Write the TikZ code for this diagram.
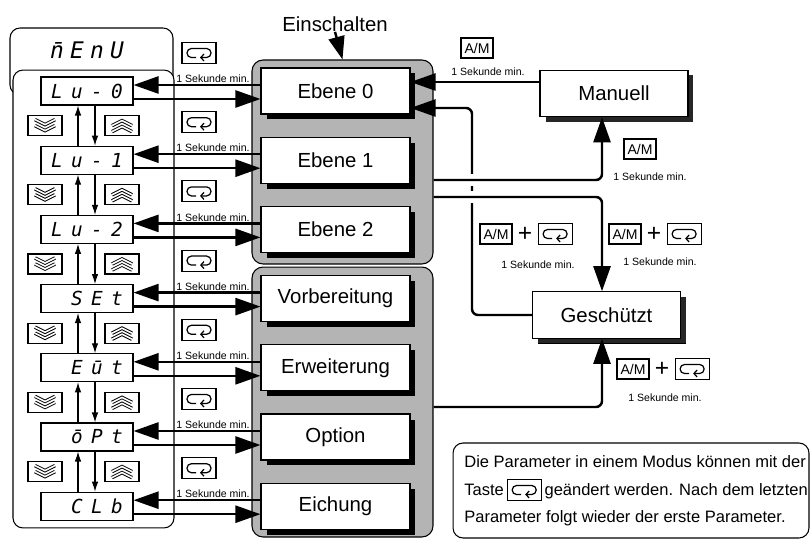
\documentclass[tikz,border=0pt]{standalone}
\usepackage{fontspec}
\setmainfont{Liberation Sans}
\setsansfont{Liberation Sans}
\newfontfamily\segfont{DejaVu Sans Mono}
\usetikzlibrary{arrows.meta, positioning, shadows}

% four fixed slots of a display, right-aligned texts leave the first one empty
\newlength{\slotw}
\setlength{\slotw}{0.4cm}
\newcommand{\segslots}[4]{%
  \makebox[\slotw]{#1}\makebox[\slotw]{#2}\makebox[\slotw]{#3}\makebox[\slotw]{#4}}
% a letter with the display's top bar over it
\newcommand{\segbar}[1]{\ooalign{#1\cr\raisebox{-0.08ex}{¯}\cr}}

\begin{document}
\begin{tikzpicture}[
    x=0.02cm, y=-0.02cm,
    every node/.style={font=\sffamily},
]

% ---------------------------------------------------------------- colours
\definecolor{grpfill}{HTML}{B4B4B4}   % the stippled mode groups
\definecolor{shadowcol}{HTML}{262626}

% ================================================================
% Geometry, in pixels of the 810 x 540 sheet (x right, y down).
%
%   rows y = 91 + 69.2 i, i = 0..6, shared by displays and mode boxes
%   displays      x 41 .. 133   (centre 87)
%   mode boxes    x 261 .. 410  (centre 335.5), groups x 252 .. 433
%   keys between  x 182 .. 216, "1 Sekunde min." just above each row
%   right column  Manuell (614, 93.5), Geschuetzt (606.5, 315)
% ================================================================

\def\rowtop{91}
\def\rowgap{69.2}

\tikzset{
    menubox/.style={draw, line width=0.6pt, fill=white, rounded corners=0.2cm},
    grp/.style={draw, line width=0.6pt, fill=grpfill, rounded corners=0.22cm,
        minimum width=3.62cm, inner sep=0pt},
    segbox/.style={draw, line width=0.6pt, fill=white,
        minimum width=1.84cm, minimum height=0.56cm, inner sep=0pt,
        font=\segfont\itshape\fontsize{11}{12}\selectfont},
    seghead/.style={inner sep=0pt, font=\segfont\itshape\fontsize{13}{14}\selectfont},
    modebox/.style={draw, line width=0.6pt, fill=white,
        minimum width=2.98cm, minimum height=0.92cm, inner sep=0pt,
        font=\sffamily\fontsize{11.6}{13}\selectfont,
        drop shadow={opacity=1, fill=black, shadow xshift=0.11cm, shadow yshift=-0.11cm}},
    sidebox/.style={modebox, minimum width=2.96cm, minimum height=0.93cm,
        drop shadow={opacity=1, fill=shadowcol, shadow xshift=0.11cm, shadow yshift=-0.1cm}},
    retkey/.style={draw, line width=0.6pt, fill=white,
        minimum width=0.68cm, minimum height=0.42cm, inner sep=0pt,
        path picture={\draw[line width=0.7pt, rounded corners=2.5pt,
            -{Straight Barb[length=1.8pt, width=4pt]},
            shift={(path picture bounding box.center)}]
            (-3,4.5) -- (-12,4.5) -- (-12,-4.5) -- (12,-4.5) -- (12,4.5) -- (1,4.5);}},
    dnkey/.style={draw, line width=0.6pt, fill=white,
        minimum width=0.68cm, minimum height=0.40cm, inner sep=0pt,
        path picture={\draw[line width=0.55pt, double, double distance=0.9pt,
            shift={(path picture bounding box.center)}]
            (-10,-6) -- (0,-1) -- (10,-6) (-10,0) -- (0,5) -- (10,0);}},
    upkey/.style={draw, line width=0.6pt, fill=white,
        minimum width=0.68cm, minimum height=0.40cm, inner sep=0pt,
        path picture={\draw[line width=0.55pt, double, double distance=0.9pt,
            shift={(path picture bounding box.center)}]
            (-10,6) -- (0,1) -- (10,6) (-10,0) -- (0,-5) -- (10,0);}},
    amkey/.style={draw, line width=0.6pt, fill=white,
        minimum width=0.64cm, minimum height=0.40cm, inner sep=0pt,
        font=\sffamily\fontsize{8}{9}\selectfont},
    plus/.style={inner sep=0pt, font=\sffamily\fontsize{14}{14}\selectfont},
    seclab/.style={inner sep=0pt, font=\sffamily\fontsize{6}{7}\selectfont},
    bigtext/.style={inner sep=0pt, font=\sffamily\fontsize{11.6}{13}\selectfont},
    notetext/.style={inner sep=0pt, text height=1.5ex, text depth=0.3ex,
        font=\sffamily\fontsize{9.4}{11}\selectfont},
    heavy/.style={line width=1.4pt, -{Triangle[length=0.5cm, width=0.34cm]}},
    scroll/.style={line width=0.6pt, -{Latex[length=0.2cm, width=0.13cm]}},
    bridge/.style={draw=white, line width=3pt},
}

\useasboundingbox (0,0) rectangle (810,540);

% ================================================================ menu column
\node[menubox, minimum width=3.26cm, minimum height=1.34cm] (menuhead) at (91.5,61.5) {};
\node[seghead] (menutitle) at (87,51) {\segslots{\segbar{n}}{E}{n}{U}};
\node[menubox, minimum width=3.22cm, minimum height=9.16cm] (menulist) at (93.5,299) {};

% ================================================================ mode groups
\node[grp, minimum height=4.08cm] (grpA) at (342.5,162) {};
\node[grp, minimum height=5.4cm]  (grpB) at (342.5,402) {};

\node[bigtext] (einschalten) at (335,24) {Einschalten};
\draw[line width=1.4pt, -{Triangle[length=0.46cm, width=0.32cm]}] (einschalten.south) -- (grpA.north);

% ================================================================ the seven rows
\foreach \i/\a/\b/\c/\d/\name in {0/L/u/-/0/Ebene 0, 1/L/u/-/1/Ebene 1,
        2/L/u/-/2/Ebene 2, 3/{}/S/E/t/Vorbereitung, 4/{}/E/\segbar{u}/t/Erweiterung,
        5/{}/\segbar{o}/P/t/Option, 6/{}/C/L/b/Eichung} {
    \pgfmathsetmacro{\y}{\rowtop+\i*\rowgap}
    \pgfmathsetmacro{\yup}{\y-6}
    \pgfmathsetmacro{\ydn}{\y+8}
    \node[segbox]  (disp\i) at (87,\y)    {\segslots{\a}{\b}{\c}{\d}};
    \node[modebox] (mode\i) at (335.5,\y) {\name};
    \node[retkey]  (ret\i)  at (199,\y-38) {};
    \node[seclab]  (sec\i)  at (213,\y-12) {1 Sekunde min.};
    \draw[heavy] (mode\i.west |- 0,\yup) -- (disp\i.east |- 0,\yup);
    \draw[heavy] (disp\i.east |- 0,\ydn) -- (mode\i.west |- 0,\ydn);
}

% scroll keys between the displays
\foreach \i in {0,...,5} {
    \pgfmathtruncatemacro{\j}{\i+1}
    \pgfmathsetmacro{\y}{\rowtop+(\i+0.5)*\rowgap}
    \node[dnkey] (dn\i) at (45,\y)  {};
    \node[upkey] (up\i) at (122,\y) {};
    \draw[scroll] (disp\j.north -| 78,0) -- (disp\i.south -| 78,0);
    \draw[scroll] (disp\i.south -| 95,0) -- (disp\j.north -| 95,0);
}

% ================================================================ right column
\node[sidebox] (manuell)    at (614,93.5)  {Manuell};
\node[sidebox] (geschuetzt) at (606.5,315) {Geschützt};

% Manuell back to Ebene 0
\draw[heavy] (manuell.west |- 0,82) -- (mode0.east |- 0,82);
\node[amkey]  (amA)  at (477,48) {A/M};
\node[seclab] (secA) at (488,72) {1 Sekunde min.};

% Geschuetzt back to Ebene 0, crossed by the two lines below
\coordinate (bend) at (472,108);
\draw[heavy, rounded corners=0.12cm] (geschuetzt.west) -| (bend) -- (mode0.east |- bend);
\draw[bridge] (bend |- 0,174) -- (bend |- 0,186);
\draw[bridge] (bend |- 0,191) -- (bend |- 0,203);

\draw[heavy, rounded corners=0.12cm] (grpA.east |- 0,180) -| (manuell.south -| 602,0);
\draw[heavy, rounded corners=0.12cm] (grpA.east |- 0,197) -| (geschuetzt.north -| 602,0);
\draw[heavy, rounded corners=0.12cm] (grpB.east |- 0,407) -| (geschuetzt.south -| 602,0);

\node[amkey]  (amB)  at (640,149) {A/M};
\node[seclab] (secB) at (650,177) {1 Sekunde min.};

% A/M + loop key, three times
\node[amkey] (amC) at (496,234) {A/M};
\node[plus, right=0.1cm of amC] (plusC) {+};
\node[retkey, right=0.1cm of plusC] (retC) {};
\node[seclab] (secC) at (538,265) {1 Sekunde min.};

\node[amkey] (amD) at (625,234) {A/M};
\node[plus, right=0.1cm of amD] (plusD) {+};
\node[retkey, right=0.1cm of plusD] (retD) {};
\node[seclab] (secD) at (660,262) {1 Sekunde min.};

\node[amkey] (amE) at (633,369) {A/M};
\node[plus, right=0.1cm of amE] (plusE) {+};
\node[retkey, right=0.1cm of plusE] (retE) {};
\node[seclab] (secE) at (665,398) {1 Sekunde min.};

% ================================================================ note
\node[menubox, minimum width=7.12cm, minimum height=1.9cm] (note) at (631,490.5) {};
\node[notetext, anchor=west] (noteA) at (464,462) {Die Parameter in einem Modus können mit der};
\node[notetext, anchor=west] (noteB) at (464,490) {Taste};
\node[retkey, right=0.05cm of noteB] (retN) {};
\node[notetext, right=0.05cm of retN] (noteC) {geändert werden. Nach dem letzten};
\node[notetext, anchor=west] (noteD) at (464,517) {Parameter folgt wieder der erste Parameter.};

\end{tikzpicture}
\end{document}
